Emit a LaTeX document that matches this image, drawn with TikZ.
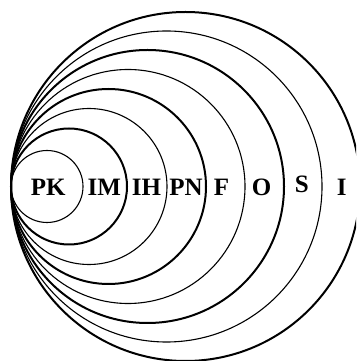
\documentclass[tikz,border=0pt]{standalone}
\usepackage{fontspec}
\setmainfont{Liberation Serif}
\begin{document}
\begin{tikzpicture}[x=1pt,y=1pt,
  thinring/.style={line width=1.1pt},
  thickring/.style={line width=2pt},
  lbl/.style={anchor=base,inner sep=0pt,font=\fontsize{25}{25}\selectfont\bfseries}]
\useasboundingbox (0,0) rectangle (356,361);
\begin{scope}
\clip (0,0) rectangle (356,361);
\coordinate (T) at (11,174.5);
\draw[thinring]  ([xshift=36pt]T) circle (36);
\draw[thickring] ([xshift=58pt]T) circle (58);
\draw[thinring]  ([xshift=78pt]T) circle (78);
\draw[thickring] ([xshift=97.5pt]T) circle (97.5);
\draw[thinring]  ([xshift=117pt]T) circle (117);
\draw[thickring] ([xshift=136.5pt]T) circle (136.5);
\draw[thinring]  ([xshift=155.5pt]T) circle (155.5);
\draw[thickring] ([xshift=174.5pt]T) circle (174.5);
\end{scope}
\node[lbl] (pk) at (48.3,165.5) {PK};
\node[lbl] (im) at (104.2,165.5) {IM};
\node[lbl] (ih) at (146.5,165.5) {IH};
\node[lbl] (pn) at (186,165.5) {PN};
\node[lbl] (f) at (221.5,165.5) {F};
\node[lbl] (o) at (261.5,165.5) {O};
\node[lbl] (s) at (301.7,168) {S};
\node[lbl] (i) at (341.7,165.5) {I};
\end{tikzpicture}
\end{document}
